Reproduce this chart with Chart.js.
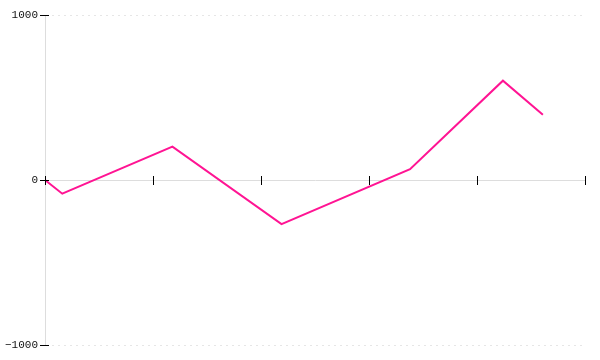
<!DOCTYPE html>
<html>
<head>
<meta charset="utf-8">
<script src="https://cdn.jsdelivr.net/npm/chart.js@4"></script>
<style>
html,body{margin:0;padding:0;background:#fff;}
#wrap{width:600px;height:360px;}
</style>
</head>
<body>
<div id="wrap"><canvas id="c" width="600" height="360"></canvas></div>
<script>
const xValues = [0, 0.16, 1.18, 2.19, 3.38, 4.24, 4.61];
const yValues = [0, -83, 202, -267, 65, 602, 396];
const yTicks = [-1000, 0, 1000];
const yTickLabels = ['\u22121000', '0', '1000'];
const xTicks = [0, 1, 2, 3, 4, 5];

const tickPlugin = {
  id: 'crossTicks',
  afterDraw(chart) {
    const ctx = chart.ctx;
    const xs = chart.scales.x, ys = chart.scales.y;
    const y0 = ys.getPixelForValue(0);
    const xl = chart.chartArea.left;
    ctx.save();
    ctx.strokeStyle = '#000';
    ctx.lineWidth = 1;
    ctx.beginPath();
    xTicks.forEach(v => {
      const px = Math.round(xs.getPixelForValue(v)) + 0.5;
      ctx.moveTo(px, y0 - 4);
      ctx.lineTo(px, y0 + 5);
    });
    yTicks.forEach(v => {
      const py = Math.round(ys.getPixelForValue(v)) + 0.5;
      ctx.moveTo(xl - 5, py);
      ctx.lineTo(xl + 4, py);
    });
    ctx.stroke();
    ctx.restore();
  }
};

new Chart(document.getElementById('c'), {
  type: 'line',
  data: {
    datasets: [{
      data: xValues.map((x, i) => ({x: x, y: yValues[i]})),
      borderColor: '#ff1493',
      borderWidth: 2,
      pointRadius: 0,
      tension: 0,
      fill: false
    }]
  },
  options: {
    responsive: false,
    animation: false,
    devicePixelRatio: 1,
    layout: {padding: {top: 15, bottom: 15, right: 15, left: 0}},
    plugins: {legend: {display: false}, tooltip: {enabled: false}},
    scales: {
      x: {
        type: 'linear', min: 0, max: 5, display: false
      },
      y: {
        type: 'linear', min: -1000, max: 1000,
        afterFit: s => { s.width = 45; },
        afterBuildTicks: s => { s.ticks = yTicks.map(v => ({value: v})); },
        ticks: {
          padding: 7,
          color: '#111',
          font: {family: 'Liberation Mono', size: 11},
          callback: (v) => yTickLabels[yTicks.indexOf(v)]
        },
        grid: {
          drawTicks: false,
          lineWidth: 1,
          color: ctx => ctx.tick && ctx.tick.value === 0 ? '#dddddd' : '#e6e6e6'
        },
        border: {
          display: true,
          color: '#dddddd',
          width: 1,
          dash: ctx => ctx.tick && ctx.tick.value === 0 ? [] : [2, 4]
        }
      }
    }
  },
  plugins: [tickPlugin]
});
</script>
</body>
</html>
